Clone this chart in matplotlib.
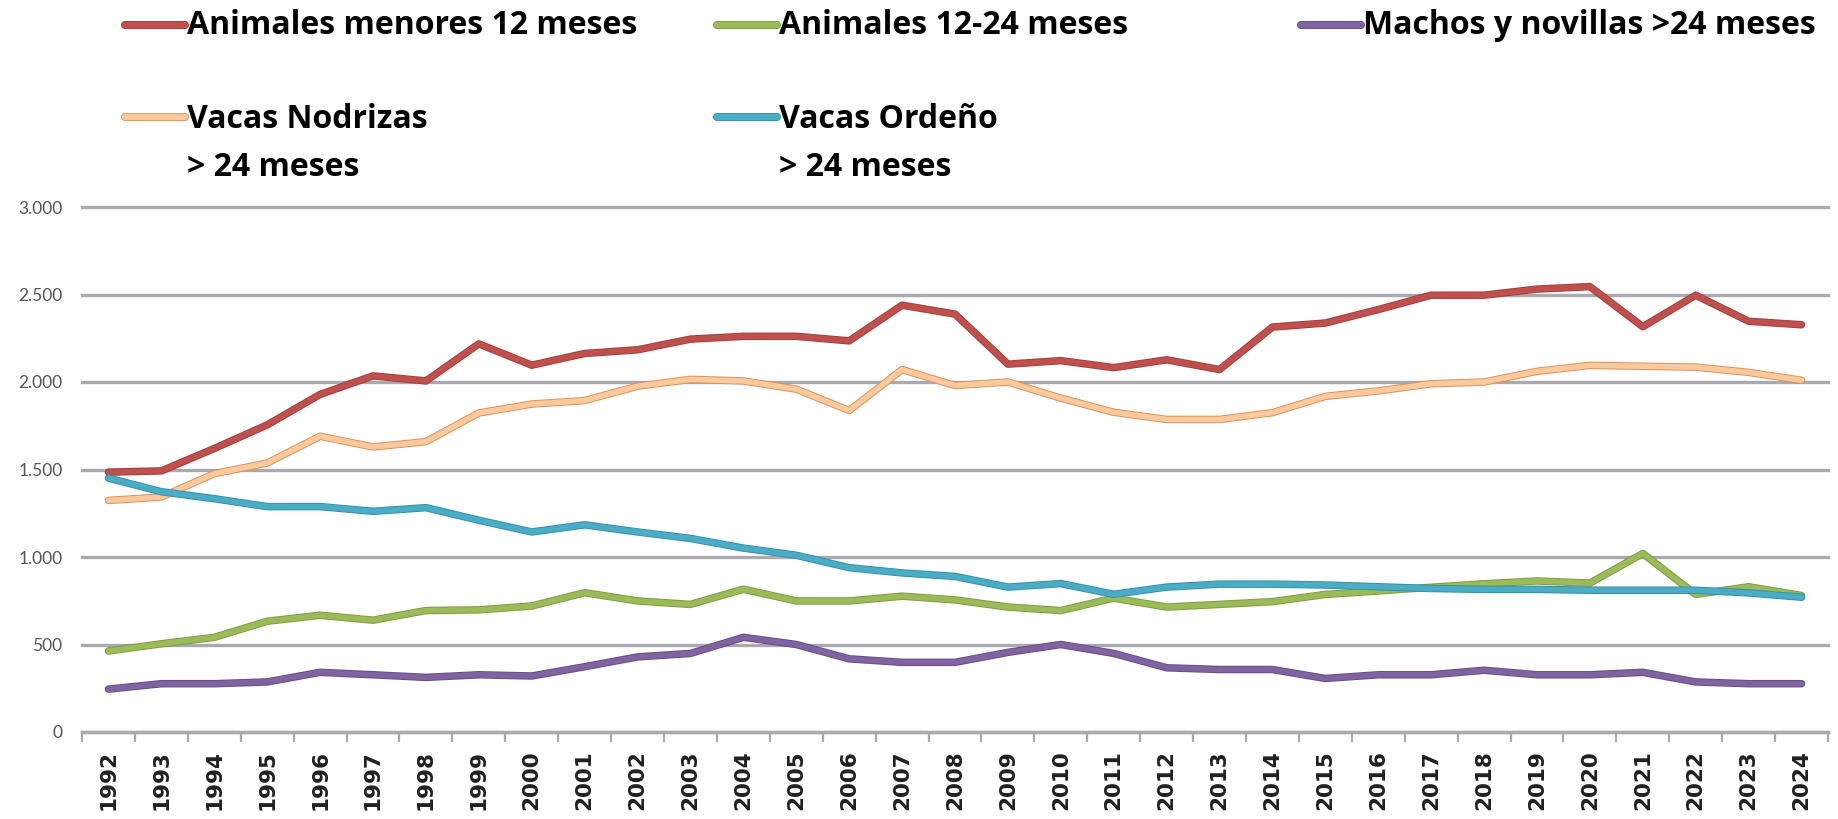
import numpy as np
import matplotlib.pyplot as plt
import matplotlib.patheffects as pe
from matplotlib.lines import Line2D
from matplotlib.ticker import FuncFormatter, MultipleLocator

years = list(range(1992, 2025))

menores_12 = [1485, 1492, 1620, 1755, 1929, 2035, 2006, 2218, 2096, 2163,
              2184, 2245, 2261, 2261, 2235, 2439, 2388, 2102, 2122, 2082,
              2127, 2071, 2314, 2337, 2414, 2496, 2496, 2531, 2545, 2316,
              2496, 2347, 2327]
de_12_24 = [463, 504, 541, 633, 667, 639, 694, 698, 720, 796,
            749, 729, 816, 749, 749, 776, 755, 714, 694, 765,
            714, 729, 745, 786, 806, 827, 847, 863, 851, 1020,
            786, 830, 780]
machos = [245, 276, 276, 286, 341, 327, 312, 327, 320, 373,
          429, 449, 541, 500, 418, 398, 398, 455, 500, 449,
          367, 357, 357, 306, 327, 327, 353, 327, 327, 341,
          286, 276, 276]
nodrizas = [1323, 1343, 1476, 1537, 1690, 1629, 1659, 1823, 1874, 1894,
            1976, 2015, 2006, 1959, 1837, 2071, 1980, 2000, 1908, 1827,
            1786, 1786, 1825, 1918, 1949, 1990, 2000, 2061, 2095, 2090,
            2085, 2055, 2010]
ordeno = [1451, 1373, 1333, 1288, 1288, 1261, 1282, 1210, 1143, 1184,
          1143, 1106, 1051, 1010, 939, 909, 889, 828, 848, 787,
          828, 845, 845, 840, 830, 820, 815, 815, 810, 810,
          810, 795, 770]

labels = ['Animales menores 12 meses', 'Animales 12-24 meses',
          'Machos y novillas >24 meses', 'Vacas Nodrizas\n> 24 meses',
          'Vacas Ordeño\n> 24 meses']
series = [menores_12, de_12_24, machos, nodrizas, ordeno]
colors = ['#C0504D', '#9BBB59', '#8064A2', '#FBC99C', '#4BACC6']
edges = ['#A23F3C', '#7E9C44', '#674D88', '#D8925E', '#3690A8']

W, H = 1838, 819
fig = plt.figure(figsize=(W / 100, H / 100), dpi=100)
ax = fig.add_axes([82 / W, (H - 732) / H, (1828 - 82) / W, (732 - 207) / H])

x = np.arange(len(years))
# draw back to front like the original
for i in [0, 3, 1, 4, 2]:
    ax.plot(x, series[i], color=colors[i], lw=4.0, solid_joinstyle='round',
            solid_capstyle='round', zorder=3,
            path_effects=[pe.Stroke(linewidth=5.4, foreground=edges[i]), pe.Normal()])

ax.set_xlim(-0.5, len(years) - 0.5)
ax.set_ylim(0, 3000)
ax.yaxis.set_major_locator(MultipleLocator(500))
ax.yaxis.set_major_formatter(FuncFormatter(lambda v, p: f'{int(v):,}'.replace(',', '.')))
ax.yaxis.grid(True, color='#A9A9B0', lw=2.4, zorder=1)
for gl in ax.get_ygridlines():
    gl.set_clip_on(False)
ax.set_axisbelow(True)

for s in ['top', 'right', 'left']:
    ax.spines[s].set_visible(False)
ax.spines['bottom'].set_color('#A9A9B0')
ax.spines['bottom'].set_linewidth(2.4)

ax.set_xticks(x)
ax.set_xticklabels([str(y) for y in years], rotation=90, fontsize=15.5,
                   fontweight='bold', family='DejaVu Sans', color='#202020')
ax.set_xticks(np.arange(len(years) + 1) - 0.5, minor=True)
ax.tick_params(axis='x', which='major', length=0, pad=13)
ax.tick_params(axis='x', which='minor', length=7, width=1.6, color='#A9A9B0')
ax.tick_params(axis='y', length=0, pad=14, labelsize=12.5, labelcolor='#555555')
for t in ax.get_yticklabels():
    t.set_family('Lato')

# legend drawn by hand, laid out like the Excel original
leg_pos = [(125, 25), (717, 25), (1301, 25), (125, 117), (717, 117)]
for i, (lx, ly) in enumerate(leg_pos):
    yf = 1 - ly / H
    fig.add_artist(Line2D([lx / W, (lx + 60) / W], [yf, yf], color=colors[i], lw=4.6,
                          solid_capstyle='round',
                          path_effects=[pe.Stroke(linewidth=5.8, foreground=edges[i]), pe.Normal()]))
    lab = labels[i]
    if '\n' in lab:
        fig.text((lx + 62) / W, 1 - (ly + 26) / H, lab, va='center', ha='left',
                 fontsize=23, family='Open Sans', fontweight='bold', linespacing=1.6)
    else:
        fig.text((lx + 62) / W, yf, lab, va='center', ha='left',
                 fontsize=23, family='Open Sans', fontweight='bold')

fig.savefig('out.png', dpi=100)
